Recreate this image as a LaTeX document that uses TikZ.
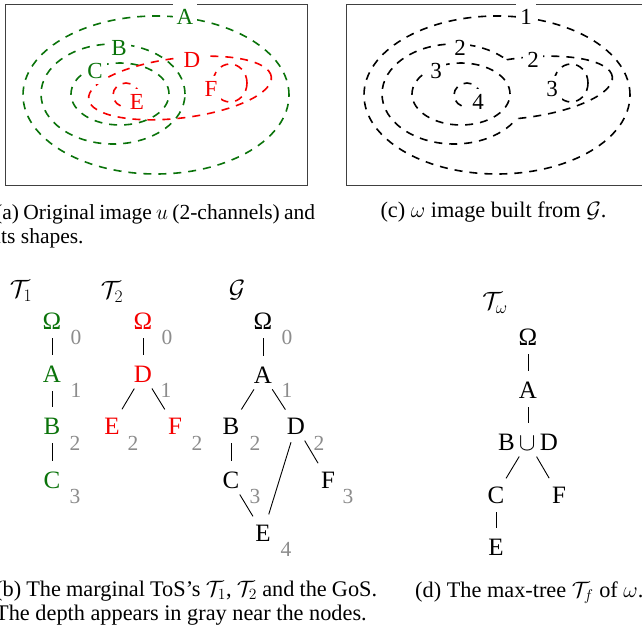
\RequirePackage{fix-cm}
\documentclass[tikz,border=0pt]{standalone}
\usepackage{fontspec}
\setmainfont{Liberation Serif}
\definecolor{dgreen}{RGB}{10,115,10}
\definecolor{dred}{RGB}{245,0,0}
\definecolor{dgray}{RGB}{140,140,140}
\tikzset{
  contour/.style={dash pattern=on 8pt off 7pt, line width=1.6pt},
  plabel/.style={fill=white, inner xsep=4pt, inner ysep=5.5pt, font=\fontsize{23}{27}\selectfont},
  tnode/.style={inner sep=0pt, font=\fontsize{25}{28}\selectfont},
  depthlab/.style={inner sep=0pt, text=dgray, font=\fontsize{21.5}{25}\selectfont},
  tedge/.style={line width=0.9pt, shorten <=17pt, shorten >=19.5pt},
  frame/.style={line width=0.8pt, draw=black!75},
  captext/.style={inner sep=0pt, anchor=base west, font=\fontsize{22.3}{24.5}\selectfont},
  captextsm/.style={inner sep=0pt, anchor=base west, font=\fontsize{21.5}{24.5}\selectfont},
}
\begin{document}
\begin{tikzpicture}[x=1pt,y=-1pt]
\useasboundingbox (0,0) rectangle (642,631);
\clip (0,0) rectangle (642,631);

% ---------- panel (a) ----------
\draw[frame] (5,4) rectangle (307,185);
\begin{scope}[contour, draw=dgreen]
  \draw (156,95) ellipse [x radius=133pt, y radius=79pt];
  \draw (113,94) ellipse [x radius=72pt, y radius=50pt];
  \draw (120,94) ellipse [x radius=49pt, y radius=31pt];
\end{scope}
\begin{scope}[contour, draw=dred]
  \draw (180,88) ellipse [x radius=92pt, y radius=30pt, rotate=7];
  \draw (126,95) ellipse [x radius=13pt, y radius=12pt];
  \draw (230,83) ellipse [x radius=17pt, y radius=19pt];
\end{scope}
\node[plabel, text=dgreen] (la) at (185,17) {A};
\node[plabel, text=dgreen] (lb) at (119,48) {B};
\node[plabel, text=dgreen] (lc) at (95,71) {C};
\node[plabel, text=dred] (ld) at (192,60) {D};
\node[plabel, text=dred] (le) at (137,102) {E};
\node[plabel, text=dred] (lf) at (211,89) {F};

% ---------- panel (c) ----------
\begin{scope}[xshift=341pt]
  \draw[frame] (5,4) rectangle (307,185);
  \draw[contour] (156,95) ellipse [x radius=133pt, y radius=79pt];
  \begin{scope}[even odd rule]
    \clip (-10,-10) rectangle (330,200)
      (180,88) ellipse [x radius=92pt, y radius=30pt, rotate=7];
    \draw[contour] (113,94) ellipse [x radius=72pt, y radius=50pt];
  \end{scope}
  \begin{scope}[even odd rule]
    \clip (-10,-10) rectangle (330,200)
      (113,94) ellipse [x radius=72pt, y radius=50pt];
    \draw[contour] (180,88) ellipse [x radius=92pt, y radius=30pt, rotate=7];
  \end{scope}
  \draw[contour] (120,94) ellipse [x radius=49pt, y radius=31pt];
  \draw[contour] (126,95) ellipse [x radius=13pt, y radius=12pt];
  \draw[contour] (230,83) ellipse [x radius=17pt, y radius=19pt];
  \node[plabel] (l1) at (185,17) {1};
  \node[plabel] (l2a) at (119,48) {2};
  \node[plabel] (l3a) at (95,71) {3};
  \node[plabel] (l2b) at (192,60) {2};
  \node[plabel] (l4) at (137,102) {4};
  \node[plabel] (l3b) at (211,89) {3};
\end{scope}

% ---------- panel (b) ----------
\node[tnode] (t1lab) at (21,291) {$\mathcal{T}_1$};
\node[tnode] (t2lab) at (112,292) {$\mathcal{T}_2$};
\node[tnode] (glab) at (237,290) {$\mathcal{G}$};

% T1
\node[tnode, text=dgreen] (t1o) at (52,321) {Ω};
\node[tnode, text=dgreen] (t1a) at (52,374) {A};
\node[tnode, text=dgreen] (t1b) at (52,426) {B};
\node[tnode, text=dgreen] (t1c) at (52,480) {C};
\node[depthlab] (t1od) at (76,337) {0};
\node[depthlab] (t1ad) at (76,390) {1};
\node[depthlab] (t1bd) at (75,443) {2};
\node[depthlab] (t1cd) at (75,496) {3};
\draw[tedge] (t1o.center) -- (t1a.center);
\draw[tedge] (t1a.center) -- (t1b.center);
\draw[tedge] (t1b.center) -- (t1c.center);

% T2
\node[tnode, text=dred] (t2o) at (143,321) {Ω};
\node[tnode, text=dred] (t2d) at (143,374) {D};
\node[tnode, text=dred] (t2e) at (112,426) {E};
\node[tnode, text=dred] (t2f) at (175,426) {F};
\node[depthlab] (t2od) at (167,337) {0};
\node[depthlab] (t2dd) at (166,390) {1};
\node[depthlab] (t2ed) at (133,443) {2};
\node[depthlab] (t2fd) at (197,443) {2};
\draw[tedge] (t2o.center) -- (t2d.center);
\draw[tedge] (t2d.center) -- (t2e.center);
\draw[tedge] (t2d.center) -- (t2f.center);

% G
\node[tnode] (go) at (263,321) {Ω};
\node[tnode] (ga) at (263,375) {A};
\node[tnode] (gb) at (231,426) {B};
\node[tnode] (gd) at (296,426) {D};
\node[tnode] (gc) at (231,480) {C};
\node[tnode] (gf) at (328,480) {F};
\node[tnode] (ge) at (263,533) {E};
\node[depthlab] (god) at (287,337) {0};
\node[depthlab] (gad) at (287,390) {1};
\node[depthlab] (gbd) at (255,443) {2};
\node[depthlab] (gdd) at (319,443) {2};
\node[depthlab] (gcd) at (255,496) {3};
\node[depthlab] (gfd) at (348,496) {3};
\node[depthlab] (ged) at (286,549) {4};
\draw[tedge] (go.center) -- (ga.center);
\draw[tedge] (ga.center) -- (gb.center);
\draw[tedge] (ga.center) -- (gd.center);
\draw[tedge] (gb.center) -- (gc.center);
\draw[tedge] (gd.center) -- (gf.center);
\draw[tedge] (gd.center) -- (ge.center);
\draw[tedge] (gc.center) -- (ge.center);

% ---------- panel (d) ----------
\node[tnode] (twlab) at (495,303) {$\mathcal{T}_\omega$};
\node[tnode] (wo) at (528,337) {Ω};
\node[tnode] (wa) at (528,390) {A};
\node[tnode] (wbd) at (528,442) {B\,$\cup$\,D};
\node[tnode] (wc) at (496,495) {C};
\node[tnode] (wf) at (559,495) {F};
\node[tnode] (we) at (496,547) {E};
\draw[tedge] (wo.center) -- (wa.center);
\draw[tedge] (wa.center) -- (wbd.center);
\draw[tedge] (wbd.center) -- (wc.center);
\draw[tedge] (wbd.center) -- (wf.center);
\draw[tedge] (wc.center) -- (we.center);

% ---------- captions ----------
\node[captextsm] (capa1) at (-5,219) {\makebox[320pt][s]{(a) Original image $u$ (2-channels) and}};
\node[captextsm] (capa2) at (-5,243) {its shapes.};
\node[captext, anchor=base] (capc) at (493.5,218) {(c) $\omega$ image built from $\mathcal{G}$.};
\node[captext] (capb1) at (-5,596) {\makebox[382pt][s]{(b) The marginal ToS’s $\mathcal{T}_1$, $\mathcal{T}_2$ and the GoS.}};
\node[captext] (capb2) at (-5,620) {The depth appears in gray near the nodes.};
\node[captext] (capd) at (415,597) {(d) The max-tree $\mathcal{T}_f$ of $\omega$.};
\end{tikzpicture}
\end{document}
